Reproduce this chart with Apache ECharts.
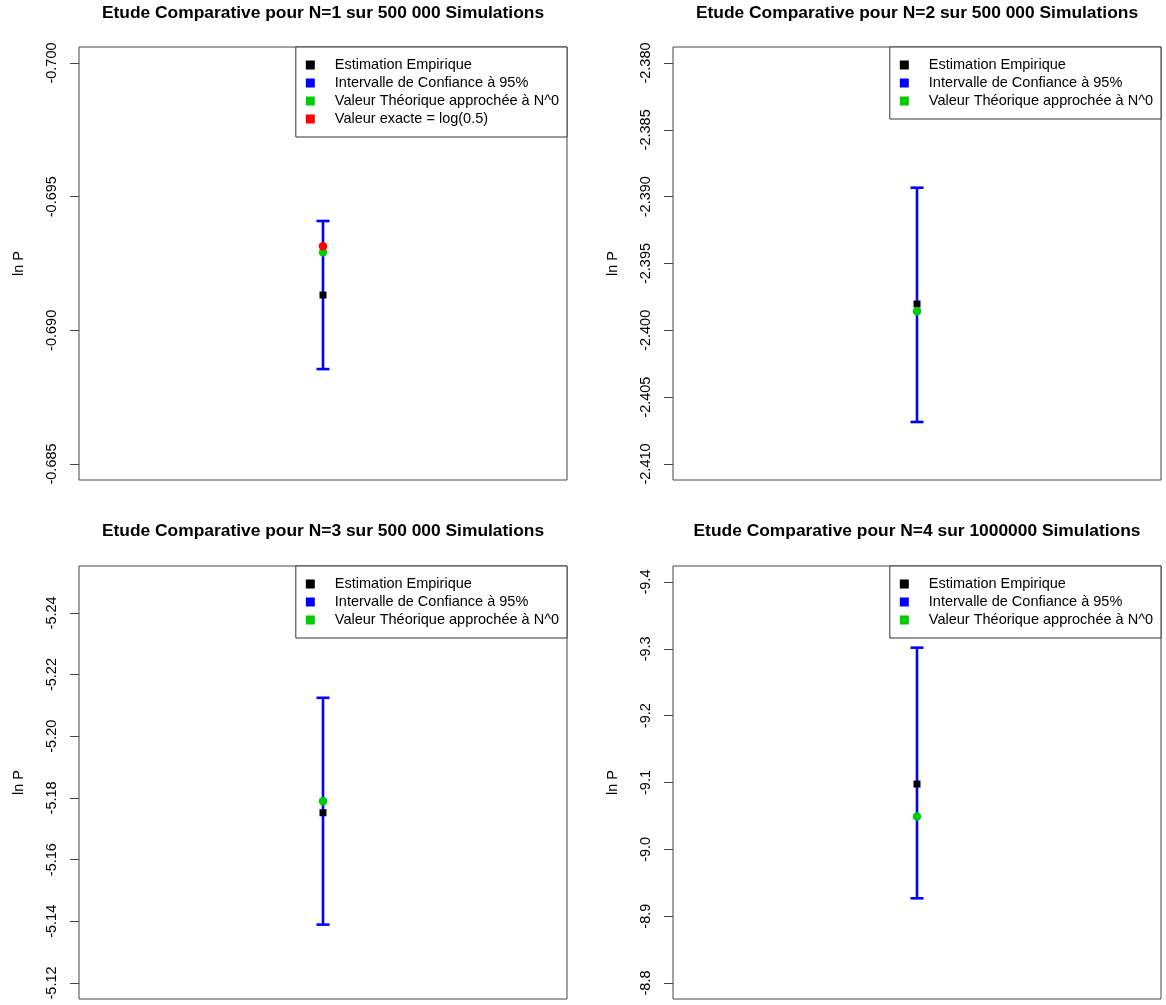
<!DOCTYPE html>
<html><head><meta charset="utf-8">
<script src="https://cdn.jsdelivr.net/npm/echarts@6/dist/echarts.min.js"></script>
<style>html,body{margin:0;padding:0;background:#fff}#c{width:1166px;height:1005px}</style>
</head><body><div id="c"></div>
<script>
// ---- data ----
const titles = [
  "Etude Comparative pour N=1 sur 500 000 Simulations",
  "Etude Comparative pour N=2 sur 500 000 Simulations",
  "Etude Comparative pour N=3 sur 500 000 Simulations",
  "Etude Comparative pour N=4 sur 1000000 Simulations"
];
const seriesNames = [
  "Estimation Empirique",
  "Intervalle de Confiance à 95%",
  "Valeur Théorique approchée à N^0",
  "Valeur exacte = log(0.5)"
];
const yAxisName = "ln P";
const estimation = [-0.69132, -2.39803, -5.1752, -9.0977];
const ciLow      = [-0.69409, -2.38933, -5.21246, -9.3018];
const ciHigh     = [-0.68855, -2.40686, -5.13892, -8.9267];
const theorique  = [-0.69292, -2.39858, -5.17896, -9.0490];
const exacte     = [-0.693147, null, null, null];
const yLimits = [[-0.700, -0.685], [-2.410, -2.380], [-5.25, -5.12], [-9.4, -8.8]];
const yInverse = [true, false, true, true];
const yTicks = [
  [-0.700, -0.695, -0.690, -0.685],
  [-2.410, -2.405, -2.400, -2.395, -2.390, -2.385, -2.380],
  [-5.24, -5.22, -5.20, -5.18, -5.16, -5.14, -5.12],
  [-9.4, -9.3, -9.2, -9.1, -9.0, -8.9, -8.8]
];
const tickDecimals = [3, 3, 2, 1];

// ---- layout ----
const W = 1166;
const gridLeft = [79, 673, 79, 673];
const gridTop = [47, 47, 566, 566];
const gridW = 488, gridH = 433;
const titleY = [13, 13, 531, 531];
const FONT = "'Liberation Sans', Arial, sans-serif";
const BLUE = '#0000FF', GREEN = '#00CD00', RED = '#FF0000', BLACK = '#000000';

const grid = [], xAxis = [], yAxis = [], series = [], title = [], legend = [];
for (let i = 0; i < 4; i++) {
  const ext = 0.04 * (yLimits[i][1] - yLimits[i][0]);
  grid.push({left: gridLeft[i], top: gridTop[i], width: gridW, height: gridH,
    show: true, borderColor: '#444', borderWidth: 1, backgroundColor: 'transparent'});
  xAxis.push({gridIndex: i, type: 'value', min: 0, max: 2, show: false});
  const dec = tickDecimals[i];
  yAxis.push({gridIndex: i, type: 'value',
    min: yLimits[i][0] - ext, max: yLimits[i][1] + ext, inverse: yInverse[i],
    axisLine: {show: false}, splitLine: {show: false},
    axisTick: {show: true, length: 9, customValues: yTicks[i], lineStyle: {color: '#444', width: 1}},
    axisLabel: {customValues: yTicks[i], rotate: 90, margin: 20, fontSize: 14.5, fontFamily: FONT, color: '#000',
      formatter: v => Number(v).toFixed(dec)},
    name: yAxisName, nameLocation: 'middle', nameGap: 53,
    nameTextStyle: {fontSize: 14.5, fontFamily: FONT, color: '#000'}
  });
  title.push({text: titles[i], left: gridLeft[i] + gridW / 2, top: titleY[i], padding: 0,
    textAlign: 'center', textVerticalAlign: 'middle',
    textStyle: {fontSize: 17.4, fontWeight: 'bold', fontFamily: FONT, color: '#000'}});

  series.push({type: 'custom', name: seriesNames[1], xAxisIndex: i, yAxisIndex: i, z: 1,
    itemStyle: {color: BLUE, opacity: 1}, silent: true,
    data: [[1, ciLow[i], ciHigh[i]]], encode: {x: 0, y: [1, 2]},
    renderItem: (params, api) => {
      const x = api.value(0);
      const p1 = api.coord([x, api.value(1)]), p2 = api.coord([x, api.value(2)]);
      const hw = 6.5, style = {stroke: BLUE, lineWidth: 2.6};
      return {type: 'group', children: [
        {type: 'line', shape: {x1: p1[0], y1: p1[1], x2: p2[0], y2: p2[1]}, style},
        {type: 'line', shape: {x1: p1[0] - hw, y1: p1[1], x2: p1[0] + hw, y2: p1[1]}, style},
        {type: 'line', shape: {x1: p2[0] - hw, y1: p2[1], x2: p2[0] + hw, y2: p2[1]}, style}
      ]};
    }});
  series.push({type: 'scatter', name: seriesNames[0], xAxisIndex: i, yAxisIndex: i, z: 2,
    symbol: 'rect', symbolSize: 7, itemStyle: {color: BLACK, opacity: 1}, silent: true,
    data: [[1, estimation[i]]]});
  series.push({type: 'scatter', name: seriesNames[2], xAxisIndex: i, yAxisIndex: i, z: 3,
    symbol: 'circle', symbolSize: 8.5, itemStyle: {color: GREEN, opacity: 1}, silent: true,
    data: [[1, theorique[i]]]});
  if (exacte[i] !== null) {
    series.push({type: 'scatter', name: seriesNames[3], xAxisIndex: i, yAxisIndex: i, z: 4,
      symbol: 'circle', symbolSize: 8.5, itemStyle: {color: RED, opacity: 1}, silent: true,
      data: [[1, exacte[i]]]});
  }
  legend.push({
    data: exacte[i] !== null ? seriesNames.slice() : seriesNames.slice(0, 3),
    orient: 'vertical', right: W - (gridLeft[i] + gridW), top: gridTop[i],
    padding: [9, 8, 9, 10], itemGap: 0, itemWidth: 9, itemHeight: 9, icon: 'rect',
    borderColor: '#333', borderWidth: 1, backgroundColor: '#fff',
    selectedMode: false, itemStyle: {borderWidth: 0, opacity: 1},
    textStyle: {fontSize: 14.5, fontFamily: FONT, color: '#000', lineHeight: 18, padding: [0, 0, 0, 15]}
  });
}

const chart = echarts.init(document.getElementById('c'), null, {renderer: 'canvas'});
chart.setOption({animation: false, backgroundColor: '#fff', title, legend, grid, xAxis, yAxis, series});
</script>
</body></html>
